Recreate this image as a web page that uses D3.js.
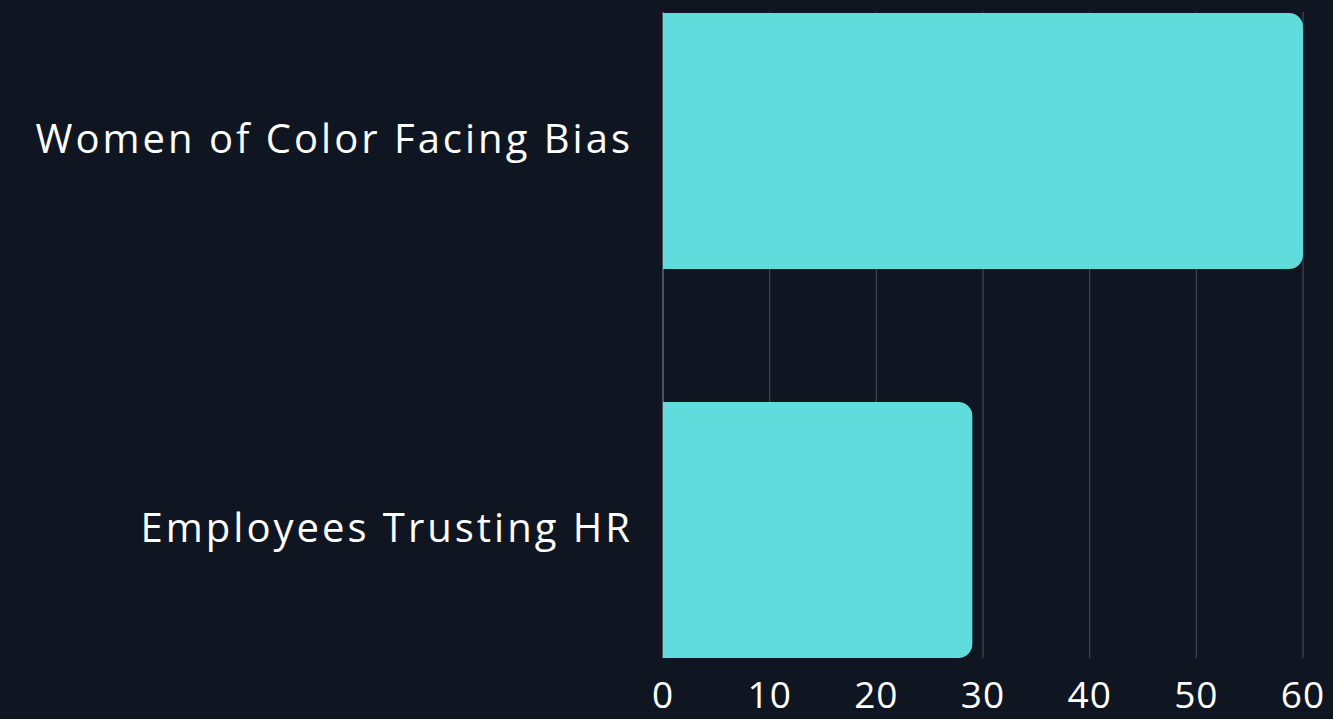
<!DOCTYPE html>
<html>
<head>
<meta charset="utf-8">
<script src="https://cdn.jsdelivr.net/npm/d3@7"></script>
<style>
    html, body { margin: 0; padding: 0; background: #0f1621; }
    svg { display: block; }
    text { font-family: "Open Sans", "Noto Sans", sans-serif; fill: #ffffff; }
</style>
</head>
<body>
<svg id="chart"></svg>
<script>
const categories = ["Women of Color Facing Bias", "Employees Trusting HR"];
const values = [60, 29];
const ticks = [0, 10, 20, 30, 40, 50, 60];

const width = 1333, height = 719;
const margin = { top: 12, right: 30, bottom: 61, left: 663 };
const innerW = width - margin.left - margin.right;
const innerH = height - margin.top - margin.bottom;

const svg = d3.select("#chart").attr("width", width).attr("height", height);
const g = svg.append("g").attr("transform", `translate(${margin.left}, ${margin.top})`);

const x = d3.scaleLinear().domain([0, 60]).range([0, innerW]);
const y = d3.scaleBand().domain(categories).range([1, innerH]).paddingInner(0.342).paddingOuter(0);

// grid
g.append("g")
    .selectAll("line")
    .data(ticks)
    .join("line")
    .attr("x1", d => x(d)).attr("x2", d => x(d))
    .attr("y1", 0).attr("y2", innerH)
    .attr("stroke", d => d === 0 ? "#8a9099" : "#4a505a")
    .attr("stroke-width", 1);

// bars, rounded on the right end only
const r = 14;
g.append("g")
    .selectAll("path")
    .data(categories)
    .join("path")
    .attr("fill", "#61dcdc")
    .attr("d", (c, i) => {
        const x0 = x(0), x1 = x(values[i]);
        const y0 = y(c), y1 = y(c) + y.bandwidth();
        return `M${x0},${y0} H${x1 - r} A${r},${r} 0 0 1 ${x1},${y0 + r} V${y1 - r} A${r},${r} 0 0 1 ${x1 - r},${y1} H${x0} Z`;
    });

// x labels
g.append("g")
    .selectAll("text")
    .data(ticks)
    .join("text")
    .attr("x", d => x(d))
    .attr("y", innerH + 50)
    .attr("text-anchor", "middle")
    .attr("font-size", 37)
    .attr("letter-spacing", 1)
    .text(d => d);

// category labels
g.append("g")
    .selectAll("text")
    .data(categories)
    .join("text")
    .attr("x", -30)
    .attr("y", c => y(c) + y.bandwidth() / 2)
    .attr("dy", "0.3em")
    .attr("text-anchor", "end")
    .attr("font-size", 40)
    .attr("letter-spacing", 3)
    .text(c => c);
</script>
</body>
</html>
